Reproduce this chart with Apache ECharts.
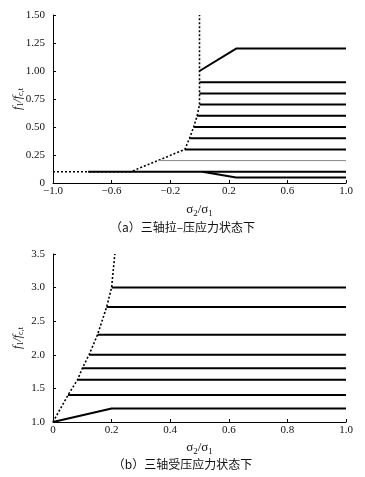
<!DOCTYPE html>
<html><head><meta charset="utf-8">
<script src="https://cdn.jsdelivr.net/npm/echarts@6/dist/echarts.min.js"></script>
<style>html,body{margin:0;padding:0;background:#fff}#c{width:365px;height:477px}</style>
</head><body><div id="c"></div>
<script>
// ---- Chart (a): triaxial tension-compression ----
var boundaryA_x = [-1.0, -0.47, -0.1, -0.068, -0.04, -0.016, 0, 0];
var boundaryA_y = [0.1, 0.1, 0.3, 0.4, 0.5, 0.6, 0.7, 1.5];
var levelsA = [0.3, 0.4, 0.5, 0.6, 0.7, 0.8, 0.9];
var startsA = [-0.1, -0.068, -0.04, -0.016, 0, 0, 0];
var greyLevelA = 0.2, greyStartA = -0.28;
var baseLevelA = 0.1, baseStartA = -0.76;
var upperA_x = [0, 0.25, 1.0], upperA_y = [1.0, 1.2, 1.2];
var lowerA_x = [0.02, 0.25, 1.0], lowerA_y = [0.1, 0.05, 0.05];
// ---- Chart (b): triaxial compression ----
var boundaryB_x = [0, 0.051, 0.084, 0.10, 0.123, 0.152, 0.183, 0.2, 0.211];
var boundaryB_y = [1.0, 1.4, 1.63, 1.8, 2.0, 2.3, 2.71, 3.0, 3.5];
var levelsB = [1.4, 1.63, 1.8, 2.0, 2.3, 2.71, 3.0];
var startsB = [0.051, 0.084, 0.10, 0.123, 0.152, 0.183, 0.2];
var lowerB_x = [0, 0.2, 1.0], lowerB_y = [1.0, 1.2, 1.2];
var lineEnd = 1.0;
var captionA = '（a）三轴拉–压应力状态下';
var captionB = '（b）三轴受压应力状态下';

function zip(xs, ys){ return xs.map(function(x,i){return [x, ys[i]];}); }
var serif = '"Liberation Serif", "DejaVu Serif", serif';
var series = [];
function solid(data, gi, w, col){
  series.push({type:'line', xAxisIndex:gi, yAxisIndex:gi, data:data, symbol:'none', silent:true,
    lineStyle:{color:col||'#000', width:w||2}});
}
function dotted(data, gi){
  series.push({type:'line', xAxisIndex:gi, yAxisIndex:gi, data:data, symbol:'none', silent:true,
    lineStyle:{color:'#000', width:1.6, type:[2,2]}});
}
dotted(zip(boundaryA_x, boundaryA_y), 0);
levelsA.forEach(function(l,i){ solid([[startsA[i], l],[lineEnd, l]], 0); });
solid([[greyStartA, greyLevelA],[lineEnd, greyLevelA]], 0, 1, '#888');
solid([[baseStartA, baseLevelA],[lineEnd, baseLevelA]], 0);
solid(zip(upperA_x, upperA_y), 0);
solid(zip(lowerA_x, lowerA_y), 0);
dotted(zip(boundaryB_x, boundaryB_y), 1);
levelsB.forEach(function(l,i){ solid([[startsB[i], l],[lineEnd, l]], 1); });
solid(zip(lowerB_x, lowerB_y), 1);

var axLine = {onZero:false, lineStyle:{color:'#000', width:1}};
var tick = {inside:true, length:3, lineStyle:{color:'#000'}};
var lab = {color:'#111', fontFamily:serif, fontSize:11};
var yName = '{i|f}{s|1}{i|/f}{s|c,t}';
var yRich = {i:{fontFamily:serif, fontStyle:'italic', fontSize:12, color:'#111', lineHeight:14, verticalAlign:'middle'},
             s:{fontFamily:serif, fontSize:8, color:'#111', lineHeight:14, verticalAlign:'bottom'}};
var xName = '{i|σ}{s|2}{i|/σ}{s|1}';
var xRich = {i:{fontFamily:serif, fontSize:13, color:'#111', lineHeight:16, verticalAlign:'middle'},
             s:{fontFamily:serif, fontSize:9, color:'#111', lineHeight:16, verticalAlign:'bottom'}};
function fmtA(v){ var s = Math.abs(v).toFixed(1); return (v < -1e-9 ? '−' : '') + s; }

var option = {
  animation:false,
  grid:[{left:53, right:19, top:15, height:168, containLabel:false, outerBoundsMode:'none'},
        {left:53, right:19, top:254, height:168, containLabel:false, outerBoundsMode:'none'}],
  xAxis:[
    {type:'value', gridIndex:0, min:-1, max:1, interval:0.4, axisLine:axLine, axisTick:tick, splitLine:{show:false},
     axisLabel:Object.assign({margin:3, formatter:fmtA}, lab), nameMoveOverlap:false,
     name:xName, nameLocation:'middle', nameGap:19, nameTextStyle:{rich:xRich}},
    {type:'value', gridIndex:1, min:0, max:1, interval:0.2, axisLine:axLine, axisTick:tick, splitLine:{show:false},
     axisLabel:Object.assign({margin:3, formatter:function(v){return v===0?'0':v.toFixed(1);}}, lab), nameMoveOverlap:false,
     name:xName, nameLocation:'middle', nameGap:18, nameTextStyle:{rich:xRich}}
  ],
  yAxis:[
    {type:'value', gridIndex:0, min:0, max:1.5, interval:0.25, axisLine:axLine, axisTick:tick, splitLine:{show:false},
     axisLabel:Object.assign({margin:8, formatter:function(v){return v===0?'0':v.toFixed(2);}}, lab), nameMoveOverlap:false,
     name:yName, nameLocation:'middle', nameRotate:90, nameGap:28, nameTextStyle:{rich:yRich}},
    {type:'value', gridIndex:1, min:1, max:3.5, interval:0.5, axisLine:axLine, axisTick:tick, splitLine:{show:false},
     axisLabel:Object.assign({margin:8, formatter:function(v){return v.toFixed(1);}}, lab), nameMoveOverlap:false,
     name:yName, nameLocation:'middle', nameRotate:90, nameGap:28, nameTextStyle:{rich:yRich}}
  ],
  graphic:[
    {type:'text', left:'center', top:221, style:{text:captionA, font:'12px "Noto Sans CJK SC"', fill:'#111'}},
    {type:'text', left:'center', top:458, style:{text:captionB, font:'12px "Noto Sans CJK SC"', fill:'#111'}}
  ],
  series:series
};
var chart = echarts.init(document.getElementById('c'), null, {renderer:'canvas'});
chart.setOption(option);
</script></body></html>
